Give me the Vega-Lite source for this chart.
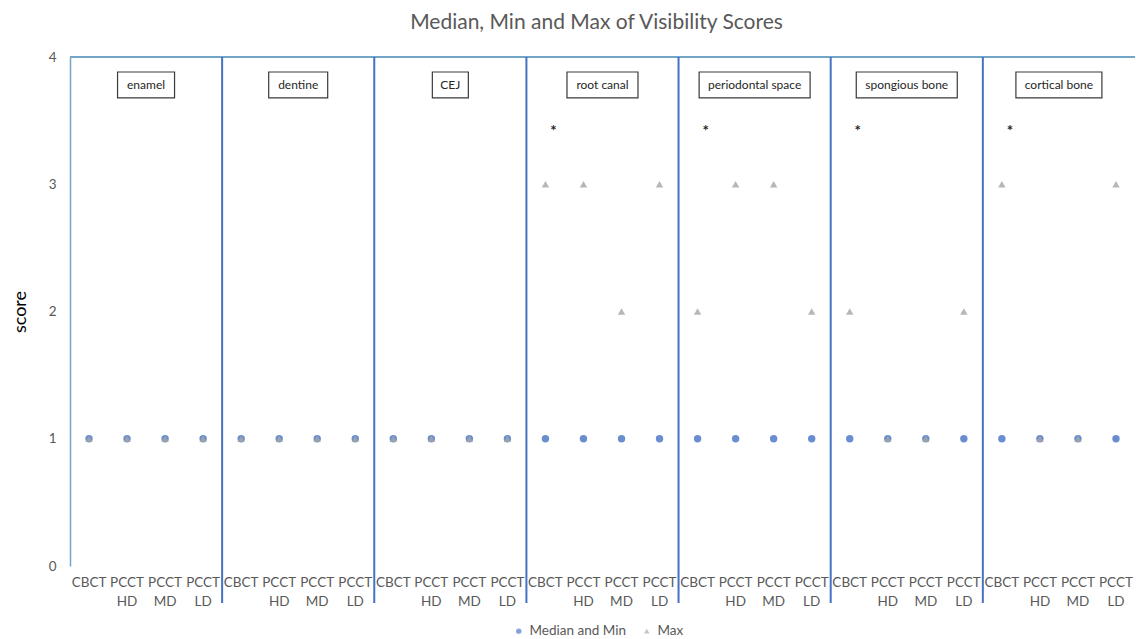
{
  "$schema": "https://vega.github.io/schema/vega-lite/v6.json",
  "autosize": "none",
  "width": 1065,
  "height": 509,
  "padding": {"left": 70, "top": 57, "right": 1, "bottom": 73},
  "background": "white",
  "title": {
    "text": "Median, Min and Max of Visibility Scores",
    "fontSize": 21,
    "font": "Lato",
    "fontWeight": "normal",
    "color": "#595959",
    "anchor": "middle",
    "dx": -6,
    "offset": 17
  },
  "datasets": {
    "scores": [
      {"g": "enamel", "m": "CBCT", "k": "enamel/CBCT", "Median and Min": 1, "Max": 1, "star": ""},
      {"g": "enamel", "m": "PCCT HD", "k": "enamel/PCCT HD", "Median and Min": 1, "Max": 1, "star": ""},
      {"g": "enamel", "m": "PCCT MD", "k": "enamel/PCCT MD", "Median and Min": 1, "Max": 1, "star": ""},
      {"g": "enamel", "m": "PCCT LD", "k": "enamel/PCCT LD", "Median and Min": 1, "Max": 1, "star": ""},
      {"g": "dentine", "m": "CBCT", "k": "dentine/CBCT", "Median and Min": 1, "Max": 1, "star": ""},
      {"g": "dentine", "m": "PCCT HD", "k": "dentine/PCCT HD", "Median and Min": 1, "Max": 1, "star": ""},
      {"g": "dentine", "m": "PCCT MD", "k": "dentine/PCCT MD", "Median and Min": 1, "Max": 1, "star": ""},
      {"g": "dentine", "m": "PCCT LD", "k": "dentine/PCCT LD", "Median and Min": 1, "Max": 1, "star": ""},
      {"g": "CEJ", "m": "CBCT", "k": "CEJ/CBCT", "Median and Min": 1, "Max": 1, "star": ""},
      {"g": "CEJ", "m": "PCCT HD", "k": "CEJ/PCCT HD", "Median and Min": 1, "Max": 1, "star": ""},
      {"g": "CEJ", "m": "PCCT MD", "k": "CEJ/PCCT MD", "Median and Min": 1, "Max": 1, "star": ""},
      {"g": "CEJ", "m": "PCCT LD", "k": "CEJ/PCCT LD", "Median and Min": 1, "Max": 1, "star": ""},
      {"g": "root canal", "m": "CBCT", "k": "root canal/CBCT", "Median and Min": 1, "Max": 3, "star": "*"},
      {"g": "root canal", "m": "PCCT HD", "k": "root canal/PCCT HD", "Median and Min": 1, "Max": 3, "star": ""},
      {"g": "root canal", "m": "PCCT MD", "k": "root canal/PCCT MD", "Median and Min": 1, "Max": 2, "star": ""},
      {"g": "root canal", "m": "PCCT LD", "k": "root canal/PCCT LD", "Median and Min": 1, "Max": 3, "star": ""},
      {"g": "periodontal space", "m": "CBCT", "k": "periodontal space/CBCT", "Median and Min": 1, "Max": 2, "star": "*"},
      {"g": "periodontal space", "m": "PCCT HD", "k": "periodontal space/PCCT HD", "Median and Min": 1, "Max": 3, "star": ""},
      {"g": "periodontal space", "m": "PCCT MD", "k": "periodontal space/PCCT MD", "Median and Min": 1, "Max": 3, "star": ""},
      {"g": "periodontal space", "m": "PCCT LD", "k": "periodontal space/PCCT LD", "Median and Min": 1, "Max": 2, "star": ""},
      {"g": "spongious bone", "m": "CBCT", "k": "spongious bone/CBCT", "Median and Min": 1, "Max": 2, "star": "*"},
      {"g": "spongious bone", "m": "PCCT HD", "k": "spongious bone/PCCT HD", "Median and Min": 1, "Max": 1, "star": ""},
      {"g": "spongious bone", "m": "PCCT MD", "k": "spongious bone/PCCT MD", "Median and Min": 1, "Max": 1, "star": ""},
      {"g": "spongious bone", "m": "PCCT LD", "k": "spongious bone/PCCT LD", "Median and Min": 1, "Max": 2, "star": ""},
      {"g": "cortical bone", "m": "CBCT", "k": "cortical bone/CBCT", "Median and Min": 1, "Max": 3, "star": "*"},
      {"g": "cortical bone", "m": "PCCT HD", "k": "cortical bone/PCCT HD", "Median and Min": 1, "Max": 1, "star": ""},
      {"g": "cortical bone", "m": "PCCT MD", "k": "cortical bone/PCCT MD", "Median and Min": 1, "Max": 1, "star": ""},
      {"g": "cortical bone", "m": "PCCT LD", "k": "cortical bone/PCCT LD", "Median and Min": 1, "Max": 3, "star": ""}
    ]
  },
  "data": {"name": "scores"},
  "encoding": {
    "x": {
      "field": "k",
      "type": "nominal",
      "sort": null,
      "scale": {
        "paddingInner": 0,
        "paddingOuter": 0,
        "domain": [
          "enamel/CBCT", "enamel/PCCT HD", "enamel/PCCT MD", "enamel/PCCT LD",
          "dentine/CBCT", "dentine/PCCT HD", "dentine/PCCT MD", "dentine/PCCT LD",
          "CEJ/CBCT", "CEJ/PCCT HD", "CEJ/PCCT MD", "CEJ/PCCT LD",
          "root canal/CBCT", "root canal/PCCT HD", "root canal/PCCT MD", "root canal/PCCT LD",
          "periodontal space/CBCT", "periodontal space/PCCT HD", "periodontal space/PCCT MD", "periodontal space/PCCT LD",
          "spongious bone/CBCT", "spongious bone/PCCT HD", "spongious bone/PCCT MD", "spongious bone/PCCT LD",
          "cortical bone/CBCT", "cortical bone/PCCT HD", "cortical bone/PCCT MD", "cortical bone/PCCT LD"
        ]
      },
      "axis": {
        "title": null,
        "labelExpr": "split(split(datum.value, '/')[1], ' ')",
        "labelAngle": 0,
        "labelFont": "Lato",
        "labelFontSize": 13.5,
        "labelColor": "#595959",
        "labelLineHeight": 19,
        "labelPadding": 9,
        "labelBaseline": "top",
        "domain": false,
        "ticks": false,
        "grid": false,
        "labelOverlap": false
      }
    }
  },
  "layer": [
    {
      "mark": {"type": "rule", "color": "#72A6C8", "strokeWidth": 1.5},
      "encoding": {
        "x": null,
        "y": {
          "datum": 4,
          "type": "quantitative",
          "scale": {"domain": [0, 4]},
          "axis": {
            "title": "score",
            "titleFont": "Lato",
            "titleFontSize": 18,
            "titleFontWeight": "normal",
            "titleColor": "#000000",
            "titleX": -45,
            "titleBaseline": "alphabetic",
            "values": [0, 1, 2, 3, 4],
            "format": "d",
            "labelFont": "Lato",
            "labelFontSize": 13.5,
            "labelColor": "#595959",
            "labelPadding": 14,
            "ticks": false,
            "domainColor": "#72A6C8",
            "domainWidth": 1.5,
            "gridColor": "#D9D9D9",
            "gridWidth": 1
          }
        }
      }
    },
    {
      "transform": [{"filter": "datum.m == 'PCCT LD' && datum.g != 'cortical bone'"}],
      "mark": {"type": "rule", "color": "#4472C4", "strokeWidth": 2, "xOffset": 19, "y2Offset": 37},
      "encoding": {
        "y": {"datum": 4, "type": "quantitative"},
        "y2": {"datum": 0}
      }
    },
    {
      "transform": [{"filter": "datum.k == 'enamel/PCCT HD'"}],
      "mark": {"type": "bar", "width": 57, "fill": "white", "stroke": "#3a3a3a", "strokeWidth": 1.2, "xOffset": 19},
      "encoding": {"y": {"datum": 3.678, "type": "quantitative"}, "y2": {"datum": 3.882}}
    },
    {
      "transform": [{"filter": "datum.k == 'dentine/PCCT HD'"}],
      "mark": {"type": "bar", "width": 59, "fill": "white", "stroke": "#3a3a3a", "strokeWidth": 1.2, "xOffset": 19},
      "encoding": {"y": {"datum": 3.678, "type": "quantitative"}, "y2": {"datum": 3.882}}
    },
    {
      "transform": [{"filter": "datum.k == 'CEJ/PCCT HD'"}],
      "mark": {"type": "bar", "width": 36, "fill": "white", "stroke": "#3a3a3a", "strokeWidth": 1.2, "xOffset": 19},
      "encoding": {"y": {"datum": 3.678, "type": "quantitative"}, "y2": {"datum": 3.882}}
    },
    {
      "transform": [{"filter": "datum.k == 'root canal/PCCT HD'"}],
      "mark": {"type": "bar", "width": 71, "fill": "white", "stroke": "#3a3a3a", "strokeWidth": 1.2, "xOffset": 19},
      "encoding": {"y": {"datum": 3.678, "type": "quantitative"}, "y2": {"datum": 3.882}}
    },
    {
      "transform": [{"filter": "datum.k == 'periodontal space/PCCT HD'"}],
      "mark": {"type": "bar", "width": 111, "fill": "white", "stroke": "#3a3a3a", "strokeWidth": 1.2, "xOffset": 19},
      "encoding": {"y": {"datum": 3.678, "type": "quantitative"}, "y2": {"datum": 3.882}}
    },
    {
      "transform": [{"filter": "datum.k == 'spongious bone/PCCT HD'"}],
      "mark": {"type": "bar", "width": 101, "fill": "white", "stroke": "#3a3a3a", "strokeWidth": 1.2, "xOffset": 19},
      "encoding": {"y": {"datum": 3.678, "type": "quantitative"}, "y2": {"datum": 3.882}}
    },
    {
      "transform": [{"filter": "datum.k == 'cortical bone/PCCT HD'"}],
      "mark": {"type": "bar", "width": 86, "fill": "white", "stroke": "#3a3a3a", "strokeWidth": 1.2, "xOffset": 19},
      "encoding": {"y": {"datum": 3.678, "type": "quantitative"}, "y2": {"datum": 3.882}}
    },
    {
      "transform": [{"filter": "datum.m == 'PCCT HD'"}],
      "mark": {"type": "text", "font": "Lato", "fontSize": 12, "color": "#262626", "dx": 19, "baseline": "middle", "align": "center"},
      "encoding": {
        "y": {"datum": 3.78, "type": "quantitative"},
        "text": {"field": "g"}
      }
    },
    {
      "transform": [{"filter": "datum.star != ''"}],
      "mark": {"type": "text", "font": "Lato", "fontSize": 15, "fontWeight": "bold", "color": "#262626", "dx": 8, "baseline": "middle", "align": "center"},
      "encoding": {
        "y": {"datum": 3.42, "type": "quantitative"},
        "text": {"field": "star"}
      }
    },
    {
      "transform": [{"fold": ["Median and Min", "Max"], "as": ["series", "score"]}],
      "mark": {"type": "point", "filled": true, "opacity": 0.8, "size": 55},
      "encoding": {
        "y": {"field": "score", "type": "quantitative"},
        "color": {
          "field": "series",
          "type": "nominal",
          "scale": {"domain": ["Median and Min", "Max"], "range": ["#4472C4", "#A5A5A5"]},
          "legend": {
            "title": null,
            "orient": "none",
            "direction": "horizontal",
            "legendX": 442,
            "legendY": 567,
            "labelFont": "Lato",
            "labelFontSize": 13.5,
            "labelColor": "#595959",
            "symbolSize": 30,
            "symbolOpacity": 1,
            "columnPadding": 14,
            "labelOffset": 4
          }
        },
        "shape": {
          "field": "series",
          "type": "nominal",
          "scale": {"domain": ["Median and Min", "Max"], "range": ["circle", "triangle-up"]}
        }
      }
    }
  ],
  "config": {
    "view": {"stroke": null},
    "font": "Lato"
  }
}
